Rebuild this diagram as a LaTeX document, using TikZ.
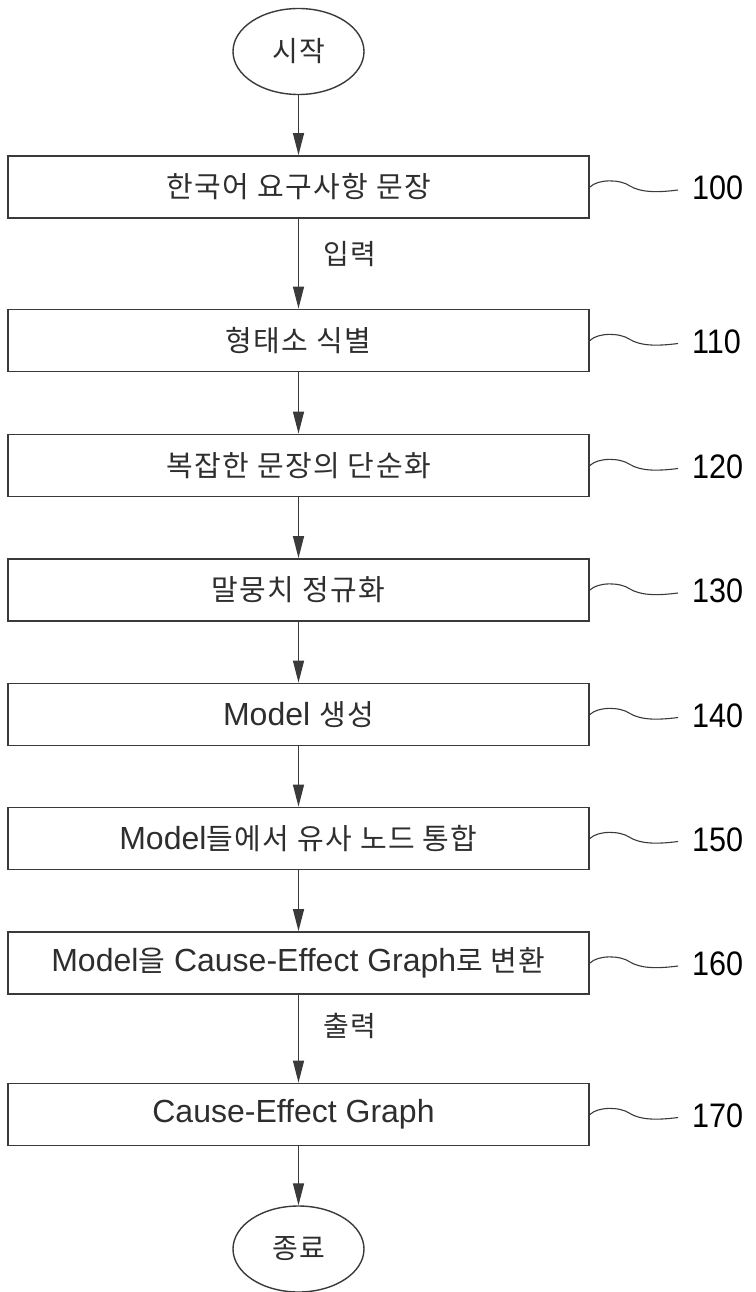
\documentclass[tikz,border=0pt]{standalone}
\usepackage{fontspec}
\setmainfont{Liberation Sans}
\newfontfamily\kr[LetterSpace=5]{Noto Sans CJK KR}
\newfontfamily\numfont[FakeStretch=0.9]{Liberation Sans}
\usetikzlibrary{arrows.meta,shapes.geometric}
\definecolor{ink}{HTML}{3A3A3A}
\definecolor{txt}{HTML}{2E2E2E}
\newcommand{\ko}[1]{{\kr\fontsize{29}{34}\selectfont #1}}

\begin{document}
\begin{tikzpicture}[x=1pt,y=-1pt,
  stepbox/.style={draw=ink, line width=1.8pt, minimum width=581pt, minimum height=62pt,
    inner sep=0pt, text=txt, font=\fontsize{32}{36}\selectfont},
  terminal/.style={draw=ink, line width=1.4pt, ellipse, minimum width=131pt,
    minimum height=86pt, inner sep=0pt, text=txt, font=\kr\fontsize{28}{32}\selectfont},
  flow/.style={draw=ink, line width=1.3pt, -{Triangle[length=22pt,width=11pt]}},
  flowtag/.style={text=txt, inner sep=0pt, font=\kr\fontsize{28}{32}\selectfont},
  lead/.style={draw=ink, line width=1.1pt},
  ref/.style={anchor=west, text=black, inner sep=0pt, font=\numfont\fontsize{34}{38}\selectfont}
]
\useasboundingbox (0,0) rectangle (755,1292);

% terminals
\node[terminal] (start) at (298.5,51.5) {시작};
\node[terminal] (end) at (298.5,1249) {종료};

% process steps
\node[stepbox] (s100) at (298.5,187)    {\ko{한국어 요구사항 문장}};
\node[stepbox] (s110) at (298.5,340.5)  {\ko{형태소 식별}};
\node[stepbox] (s120) at (298.5,465.5)  {\ko{복잡한 문장의 단순화}};
\node[stepbox] (s130) at (298.5,590)    {\ko{말뭉치 정규화}};
\node[stepbox] (s140) at (298.5,714.5)  {Model \ko{생성}};
\node[stepbox] (s150) at (298.5,838.5)  {Model\ko{들에서 유사 노드 통합}};
\node[stepbox] (s160) at (298.5,963)    {Model\ko{을} Cause-Effect Graph\ko{로 변환}};
\node[stepbox] (s170) at (298.5,1114.5) {Cause-Effect Graph\hspace*{10pt}};

% flow arrows
\draw[flow] (start.south) -- (s100.north);
\draw[flow] (s100.south) -- (s110.north);
\draw[flow] (s110.south) -- (s120.north);
\draw[flow] (s120.south) -- (s130.north);
\draw[flow] (s130.south) -- (s140.north);
\draw[flow] (s140.south) -- (s150.north);
\draw[flow] (s150.south) -- (s160.north);
\draw[flow] (s160.south) -- (s170.north);
\draw[flow] (s170.south) -- (end.north);

% arrow tags
\node[flowtag] (tagin)  at (350,254)  {입력};
\node[flowtag] (tagout) at (350,1026) {출력};

% reference numerals with wavy leaders
\foreach \id/\yc in {100/187,110/340.5,120/465.5,130/590,140/714.5,150/838.5,160/963,170/1114.5} {
  \coordinate (w\id) at (678,\yc+3);
  \node[ref] (n\id) at (692,\yc+1) {\id};
  \draw[lead] (s\id.east) .. controls (598,\yc-8) and (620,\yc-8) .. (630,\yc-1)
    .. controls (640,\yc+5) and (655,\yc+6) .. (w\id);
}
\end{tikzpicture}
\end{document}
